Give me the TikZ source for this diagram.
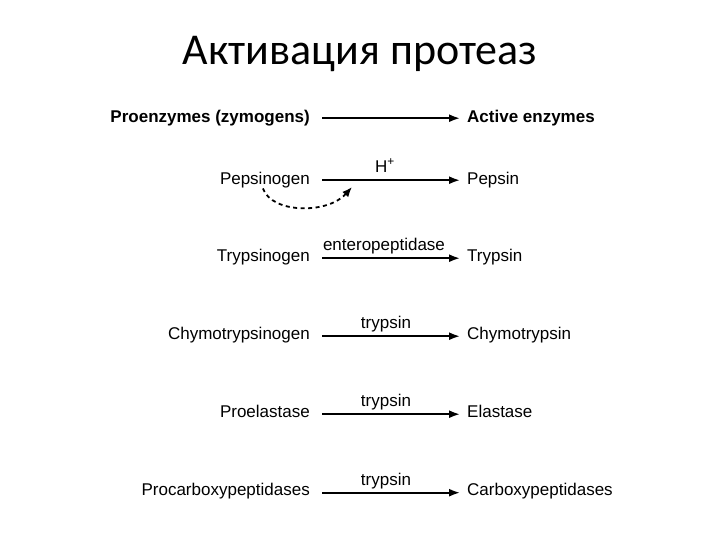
\documentclass[tikz,border=0pt]{standalone}
\usepackage{fontspec}
\setmainfont{Liberation Sans}
\newfontfamily\titlefont{Carlito}
\usetikzlibrary{positioning, arrows.meta}

\begin{document}
\begin{tikzpicture}[
    x=1pt, y=1pt,
    enz/.style={inner sep=0pt, font=\fontsize{17}{20}\selectfont},
    head/.style={enz, font=\fontsize{17}{20}\selectfont\bfseries},
    agent/.style={inner sep=0pt, font=\fontsize{17}{20}\selectfont, anchor=base},
    arrow/.style={-{Latex[length=11pt, width=8pt]}, line width=1.8pt},
    autocat/.style={-{Latex[length=10pt, width=8pt]}, line width=1.8pt, dash pattern=on 4pt off 3.5pt},
]
\useasboundingbox (0,0) rectangle (720,-540);
\node[anchor=base, font=\titlefont\fontsize{44}{52}\selectfont] (title) at (360,-65) {Активация протеаз};

% left column: precursors
\node[head, anchor=base east] (proenz) at (310,-122.7) {Proenzymes (zymogens)};
\node[enz, below=62pt of proenz.base east, anchor=base east] (pepsinogen) {Pepsinogen};
\node[enz, below=77pt of pepsinogen.base east, anchor=base east] (trypsinogen) {Trypsinogen};
\node[enz, below=78pt of trypsinogen.base east, anchor=base east] (chymogen) {Chymotrypsinogen};
\node[enz, below=78pt of chymogen.base east, anchor=base east] (proelast) {Proelastase};
\node[enz, below=78pt of proelast.base east, anchor=base east] (procarb) {Procarboxypeptidases};

% right column: active enzymes
\node[head, right=157pt of proenz.base east, anchor=base west] (active) {Active enzymes};
\node[enz, right=157pt of pepsinogen.base east, anchor=base west] (pepsin) {Pepsin};
\node[enz, right=157pt of trypsinogen.base east, anchor=base west] (trypsin) {Trypsin};
\node[enz, right=157pt of chymogen.base east, anchor=base west] (chymo) {Chymotrypsin};
\node[enz, right=157pt of proelast.base east, anchor=base west] (elast) {Elastase};
\node[enz, right=157pt of procarb.base east, anchor=base west] (carb) {Carboxypeptidases};

\draw[arrow] ([xshift=12pt, yshift=4.5pt]proenz.base east) -- ([xshift=-7pt, yshift=4.5pt]active.base west);
\draw[arrow] ([xshift=12pt, yshift=4.5pt]pepsinogen.base east) -- ([xshift=-7pt, yshift=4.5pt]pepsin.base west)
    node[agent, midway, xshift=-6pt, yshift=8pt] (acid) {H\textsuperscript{+}};
\draw[arrow] ([xshift=12pt, yshift=3.5pt]trypsinogen.base east) -- ([xshift=-7pt, yshift=3.5pt]trypsin.base west)
    node[agent, midway, xshift=-7pt, yshift=8pt] (entero) {enteropeptidase};
\draw[arrow] ([xshift=12pt, yshift=3.5pt]chymogen.base east) -- ([xshift=-7pt, yshift=3.5pt]chymo.base west)
    node[agent, midway, xshift=-5pt, yshift=7.5pt] (tryp1) {trypsin};
\draw[arrow] ([xshift=12pt, yshift=3.5pt]proelast.base east) -- ([xshift=-7pt, yshift=3.5pt]elast.base west)
    node[agent, midway, xshift=-5pt, yshift=7.5pt] (tryp2) {trypsin};
\draw[arrow] ([xshift=12pt, yshift=3pt]procarb.base east) -- ([xshift=-7pt, yshift=3pt]carb.base west)
    node[agent, midway, xshift=-5pt, yshift=7.5pt] (tryp3) {trypsin};

% pepsin activates its own precursor
\coordinate (autotip) at (352,-187);
\draw[autocat] ([xshift=-2pt]pepsinogen.south) .. controls (272,-214) and (328,-214) .. (autotip);

\end{tikzpicture}
\end{document}
